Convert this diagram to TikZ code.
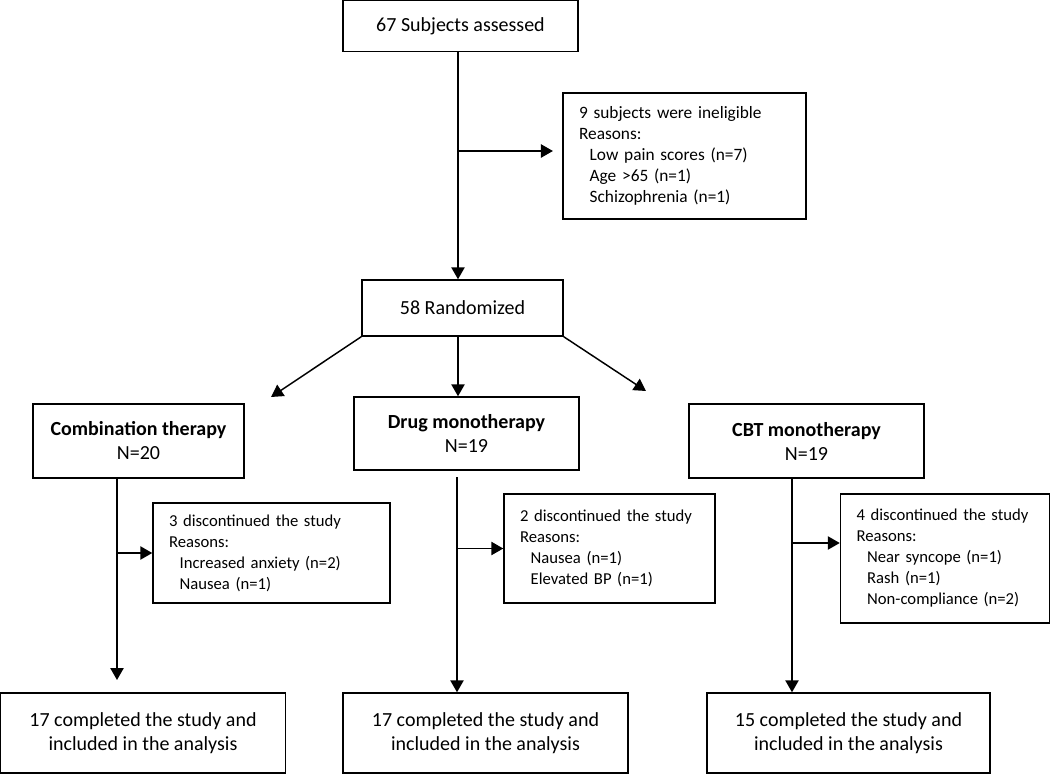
\documentclass[tikz,border=0pt]{standalone}
\usepackage{fontspec}
\setmainfont{Carlito}
\usepackage{tikz}
\usetikzlibrary{arrows.meta}
\usetikzlibrary{positioning}
\newcommand{\Ind}{\hspace*{8pt}}

\begin{document}
\begin{tikzpicture}[x=0.75pt, y=-0.75pt, >={Triangle[length=9pt,width=10pt]}, line width=1.1pt,
	box/.style={draw, align=center, inner sep=0pt, font=\fontsize{15}{18}\selectfont},
	why/.style={draw, align=left, inner xsep=12pt, inner ysep=0pt, font=\fontsize{12.5}{15.75}\selectfont},
	done/.style={box, minimum height=60pt, font=\fontsize{15}{17.5}\selectfont}]
			\useasboundingbox (0,0) rectangle (1050,774);
			% top part
			\node[box, minimum width=176.25pt, minimum height=38.25pt] (Start) at (460.5,26) {67 Subjects assessed};
			\node[why, text width=158.25pt, minimum height=94.5pt, font=\fontsize{13}{15.75}\selectfont] (Inel) at (684.5,156) {9 subjects were ineligible\\Reasons:\\\Ind Low pain scores (n=7)\\\Ind Age >65 (n=1)\\\Ind Schizophrenia (n=1)};
			\node[box, minimum width=150.75pt, minimum height=42pt] (Rand) at (462.5,308) {58 Randomized};
			% arms
			\node[box, minimum width=158.25pt, minimum height=55.5pt] (Comb) at (138.5,441) {\textbf{Combination therapy}\\N=20};
			\node[box, minimum width=168.75pt, minimum height=54.75pt] (Drug) at (466.5,433.5) {\textbf{Drug monotherapy}\\N=19};
			\node[box, minimum width=176.25pt, minimum height=55.5pt] (CBT) at (806.5,441) {\textbf{CBT monotherapy}\\N=19};
			% drop outs
			\node[why, text width=153.75pt, minimum height=75pt] (Disc1) at (271.5,553) {3 discontinued the study\\Reasons:\\\Ind Increased anxiety (n=2)\\\Ind Nausea (n=1)};
			\node[why, text width=134.25pt, minimum height=81.75pt] (Disc2) at (609.5,548.5) {2 discontinued the study\\Reasons:\\\Ind Nausea (n=1)\\\Ind Elevated BP (n=1)};
			\node[why, text width=132.75pt, minimum height=96.75pt] (Disc3) at (945,558.5) {4 discontinued the study\\Reasons:\\\Ind Near syncope (n=1)\\\Ind Rash (n=1)\\\Ind Non-compliance (n=2)};
			% completed
			\node[done, minimum width=213.75pt] (Comp1) at (143,733) {17 completed the study and\\included in the analysis};
			\node[done, minimum width=213.75pt] (Comp2) at (485.5,733) {17 completed the study and\\included in the analysis};
			\node[done, minimum width=212.25pt] (Comp3) at (848.5,733) {15 completed the study and\\included in the analysis};
			% free ends
			\coordinate (b0) at (458,151);
			\coordinate (a1) at (271,397);
			\coordinate (a3) at (646,391);
			\coordinate (c1) at (117,680);
			\coordinate (c2) at (457,477);
			\coordinate (c3) at (792,543);
			\draw[->] (Start.south -| b0) -- (b0 |- Rand.north);
			\draw[->, shorten >=7pt] (b0) -- (b0 -| Inel.west);
			\draw[->] (Rand.south west) -- (a1);
			\draw[->] (Rand.south -| b0) -- (b0 |- Drug.north);
			\draw[->] (Rand.south east) -- (a3);
			\draw[->] (Comb.south -| c1) -- (c1);
			\draw[->] (c1 |- Disc1.west) -- (Disc1.west);
			\draw[->] (c2) -- (c2 |- Comp2.north);
			\draw[->] (c2 |- Disc2.west) -- (Disc2.west);
			\draw[->] (CBT.south -| c3) -- (c3 |- Comp3.north);
			\draw[->] (c3) -- (c3 -| Disc3.west);
		\end{tikzpicture}
\end{document}
